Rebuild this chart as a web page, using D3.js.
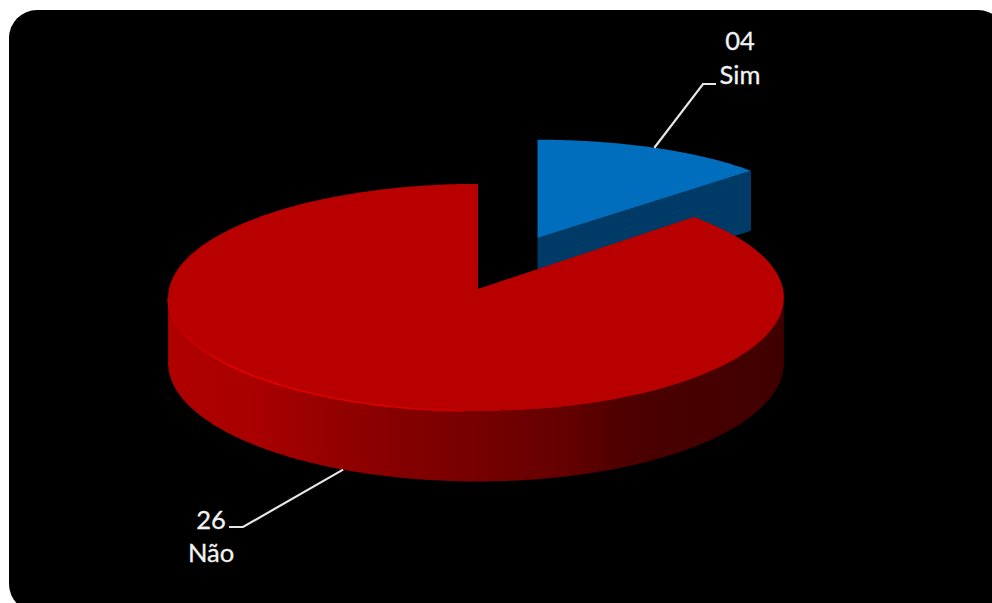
<!DOCTYPE html>
<html>
<head>
<meta charset="utf-8">
<script src="https://cdn.jsdelivr.net/npm/d3@7"></script>
<style>
  html, body { margin: 0; padding: 0; background: #fff; overflow: hidden; }
  svg { display: block; }
  text { font-family: Lato, "Open Sans", sans-serif; font-size: 25.5px; fill: #f2f2f2; stroke: #f2f2f2; stroke-width: 0.3px; text-anchor: middle; }
</style>
</head>
<body>
<svg id="chart" width="992" height="603"></svg>
<script>
// Answers and their counts
const categories = ["Sim", "Não"];
const counts = [4, 26];
const countLabels = ["04", "26"];

// Top faces and side walls of each slice
const topColors = ["#006ebc", "#b80000"];
const wallColor = "#003a66";
const redWallStops = [
  [0, "#b00000"], [0.15, "#a80000"], [0.284, "#920000"], [0.377, "#850000"], [0.485, "#780000"],
  [0.648, "#640000"], [0.729, "#500000"], [0.782, "#4a0000"], [1, "#400000"]
];

// Tilted-disc camera: centre, left and right radii, depth radius, perspective, thickness
const cx = 478, cy = 289, rxLeft = 309, rxRight = 305, ry = 113, persp = 0.075, thickness = 65;

// Per-slice drawing setup: sideways and backward offset from the centre, width scale, horizontal perspective
const sliceSetup = [
  { ou: 0.195, ov: 0.466, widthScale: 0.942, xPersp: 0 },
  { ou: 0, ov: 0, widthScale: 1, xPersp: persp }
];

// Label text centres and leader elbows
const labelLayout = [
  { x: 740, y1: 50, y2: 84, elbow: [703, 84], end: [716, 84] },
  { x: 211, y1: 529, y2: 562, elbow: [243, 527], end: [229, 527] }
];

const svg = d3.select("#chart");

// Rounded black panel running off the right and bottom edges
svg.append("rect")
  .attr("x", 9).attr("y", 10).attr("width", 997).attr("height", 602)
  .attr("rx", 28).attr("ry", 28).attr("fill", "#000");

const defs = svg.append("defs");
const wallGrad = defs.append("linearGradient")
  .attr("id", "redWall").attr("gradientUnits", "userSpaceOnUse")
  .attr("x1", 168).attr("x2", 784).attr("y1", 0).attr("y2", 0);
redWallStops.forEach(([o, c]) => wallGrad.append("stop").attr("offset", o).attr("stop-color", c));

const rimGrad = defs.append("linearGradient")
  .attr("id", "redRim").attr("gradientUnits", "userSpaceOnUse")
  .attr("x1", 168).attr("x2", 500).attr("y1", 0).attr("y2", 0);
rimGrad.append("stop").attr("offset", 0).attr("stop-color", "#c00000");
rimGrad.append("stop").attr("offset", 0.2).attr("stop-color", "#e80000");
rimGrad.append("stop").attr("offset", 0.7).attr("stop-color", "#dc0000");
rimGrad.append("stop").attr("offset", 1).attr("stop-color", "#b00000");

// Soft edge for the lit rim of the large slice
defs.append("filter").attr("id", "rimSoft")
  .attr("filterUnits", "userSpaceOnUse")
  .attr("x", 150).attr("y", 270).attr("width", 400).attr("height", 160)
  .append("feGaussianBlur").attr("stdDeviation", 0.5);

// Maps a point on the unit disc to the screen; drop lowers it by the pie thickness
function project(u, v, drop, xPersp) {
  const w = 1 + persp * v;
  const xw = 1 + xPersp * v;
  const rx = u < 0 ? rxLeft : rxRight;
  return [cx + rx * u / xw, cy + (-ry * v + (drop ? thickness : 0)) / w];
}

const arcs = d3.pie().sort(null).value(d => d)(counts);
const line = d3.line();

function rimPoint(a, angle, drop) {
  const s = sliceSetup[a.index];
  return project(s.ou + s.widthScale * Math.sin(angle), s.ov + Math.cos(angle), drop, s.xPersp);
}

function apexPoint(a, drop) {
  const s = sliceSetup[a.index];
  return project(s.ou, s.ov, drop, s.xPersp);
}

function rimSamples(a, from, to, drop) {
  const steps = Math.max(8, Math.ceil(Math.abs(to - from) * 60));
  return d3.range(steps + 1).map(i => rimPoint(a, from + (to - from) * i / steps, drop));
}

const [sim, nao] = arcs;

// Exploded slice: inner wall along its trailing radius, then its top
svg.append("path")
  .attr("d", line([apexPoint(sim, false), rimPoint(sim, sim.endAngle, false), rimPoint(sim, sim.endAngle, true), apexPoint(sim, true)]) + "Z")
  .attr("fill", wallColor);
svg.append("path")
  .attr("d", line([apexPoint(sim, false), ...rimSamples(sim, sim.startAngle, sim.endAngle, false)]) + "Z")
  .attr("fill", topColors[0]);

// Large slice: the wall spans only the front of the rim, between its outermost points
const naoRim = rimSamples(nao, nao.startAngle, nao.endAngle, false);
const naoRimLow = rimSamples(nao, nao.startAngle, nao.endAngle, true);
const rightIdx = d3.greatestIndex(naoRim, p => p[0]);
const leftIdx = d3.leastIndex(naoRim, p => p[0]);
svg.append("path")
  .attr("d", line([
    ...naoRim.slice(rightIdx, leftIdx + 1),
    ...naoRimLow.slice(rightIdx, leftIdx + 1).reverse()
  ]) + "Z")
  .attr("fill", "url(#redWall)");
svg.append("path")
  .attr("d", line([apexPoint(nao, false), ...naoRim]) + "Z")
  .attr("fill", topColors[1]);
svg.append("path")
  .attr("d", line(naoRim.slice(Math.round(leftIdx * 0.62), leftIdx + 1)))
  .attr("fill", "none").attr("stroke", "url(#redRim)").attr("stroke-width", 1.6)
  .attr("filter", "url(#rimSoft)");

// Leader lines and the two-line labels
arcs.forEach((a, i) => {
  const layout = labelLayout[i];
  const mid = (a.startAngle + a.endAngle) / 2;
  const anchor = rimPoint(a, mid, mid > Math.PI / 2 && mid < Math.PI * 1.5);
  svg.append("path")
    .attr("d", line([anchor, layout.elbow, layout.end]))
    .attr("fill", "none").attr("stroke", "#e6e6e6").attr("stroke-width", 2.2);
  svg.append("text").attr("x", layout.x).attr("y", layout.y1).text(countLabels[i]);
  svg.append("text").attr("x", layout.x).attr("y", layout.y2).text(categories[i]);
});
</script>
</body>
</html>
